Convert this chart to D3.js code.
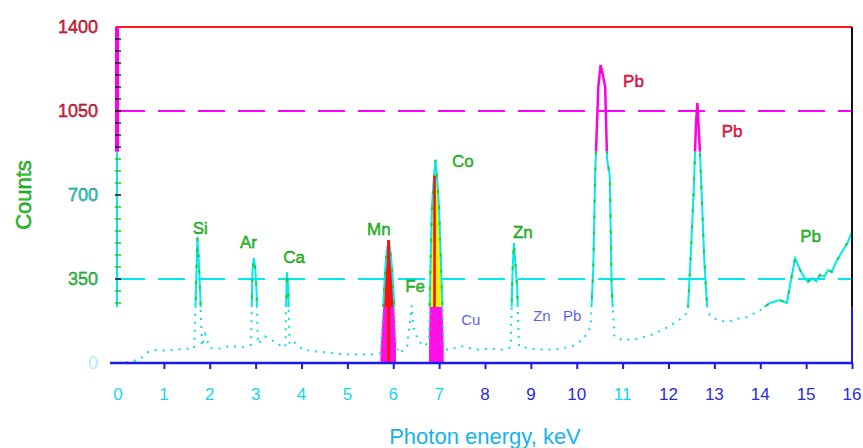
<!DOCTYPE html>
<html lang="en">
<head>
<meta charset="UTF-8">
<title>EDX spectrum</title>
<script src="https://cdn.jsdelivr.net/npm/d3@7"></script>
<style>
  body { margin: 0; background: #fff; }
  svg { display: block; font-family: "Liberation Sans", Arial, sans-serif; }
</style>
</head>
<body>
<svg id="chart" width="863" height="448"></svg>
<script>
  // spectrum (keV, counts)
  const energy = [0.00, 0.30, 0.50, 0.65, 0.80, 1.00, 1.20, 1.40, 1.60, 1.66, 1.70, 1.73, 1.76, 1.79, 1.83, 1.90, 2.00,
    2.20, 2.45, 2.70, 2.90, 2.93, 2.96, 2.99, 3.02, 3.05, 3.20, 3.40, 3.60, 3.65, 3.68, 3.71, 3.74, 3.85, 4.00,
    4.20, 4.50, 4.80, 5.20, 5.50, 5.72, 5.78, 5.82, 5.86, 5.90, 5.94, 5.98, 6.02, 6.06, 6.12, 6.30, 6.38, 6.40, 6.44,
    6.55, 6.70, 6.78, 6.80, 6.84, 6.88, 6.92, 6.96, 7.00, 7.04, 7.07, 7.10, 7.18, 7.30, 7.50, 7.80, 8.10, 8.40, 8.56, 8.60,
    8.63, 8.66, 8.70, 8.74, 9.00, 9.30, 9.60, 9.90, 10.15, 10.30, 10.36, 10.40, 10.47, 10.52, 10.57, 10.62, 10.66,
    10.72, 10.76, 10.82, 11.00, 11.30, 11.60, 11.90, 12.20, 12.42, 12.48, 12.55, 12.60, 12.63, 12.68, 12.72, 12.78,
    12.84, 12.90, 13.05, 13.28, 13.50, 13.67, 13.85, 14.00, 14.21, 14.43, 14.58, 14.65, 14.76, 14.87, 14.95, 15.04,
    15.13, 15.22, 15.30, 15.40, 15.48, 15.56, 15.65, 15.80, 15.90, 16.00];
  const counts = [0, 5, 20, 45, 55, 52, 55, 58, 60, 62, 300, 525, 430, 300, 70, 120, 62,
    60, 72, 65, 75, 380, 437, 400, 300, 80, 110, 90, 65, 70, 379, 320, 75, 85, 60,
    50, 45, 38, 35, 35, 40, 230, 380, 470, 512, 460, 380, 250, 80, 40, 65, 200, 240, 150,
    90, 70, 100, 300, 640, 760, 846, 760, 640, 420, 250, 70, 55, 60, 70, 55, 60, 55, 65, 380,
    500, 420, 320, 70, 60, 55, 58, 70, 100, 150, 390, 780, 1150, 1242, 1200, 1150, 850,
    780, 320, 110, 95, 100, 115, 140, 175, 210, 430, 720, 1000, 1083, 900, 720, 430,
    240, 200, 180, 170, 185, 188, 205, 220, 250, 262, 250, 325, 437, 387, 360, 337,
    354, 340, 367, 360, 387, 380, 420, 470, 500, 546];

  const xTickValues = [0, 1, 2, 3, 4, 5, 6, 7, 8, 9, 10, 11, 12, 13, 14, 15, 16];
  const xTickLabels = ["0", "1", "2", "3", "4", "5", "6", "7", "8", "9", "10", "11", "12", "13", "14", "15", "16"];
  const yTickValues = [0, 350, 700, 1050, 1400];
  const yTickLabels = ["0", "350", "700", "1050", "1400"];

  // element labels, anchored in data units (keV, counts)
  const peakNames = ["Si", "Ar", "Ca", "Mn", "Fe", "Co", "Zn", "Pb", "Pb", "Pb"];
  const peakKeV = [1.63, 2.66, 3.60, 5.43, 6.26, 7.28, 8.61, 11.01, 13.16, 14.87];
  const peakCounts = [537, 479, 417, 533, 296, 817, 521, 1150, 942, 504];
  const faintNames = ["Cu", "Zn", "Pb"];
  const faintKeV = [7.48, 9.05, 9.70];
  const faintCounts = [160, 175, 175];

  const bandHigh = 880, bandLow = 233;

  const svg = d3.select("#chart");
  const x = d3.scaleLinear().domain([0, 16]).range([118, 852]);
  const y = d3.scaleLinear().domain([0, 1400]).range([363, 27]);

  const spectrum = energy.map((e, i) => ({e: e, c: counts[i]}));
  const line = d3.line().x(d => x(d.e)).y(d => y(d.c));
  const area = d3.area().x(d => x(d.e)).y0(y(0)).y1(d => y(d.c));

  const defs = svg.append("defs");
  function band(id, c0, c1) {
    defs.append("clipPath").attr("id", id)
        .append("rect")
        .attr("x", 100).attr("width", 760)
        .attr("y", y(c1)).attr("height", y(c0) - y(c1));
  }
  band("top", bandHigh, 1500);
  band("mid", bandLow, bandHigh);
  band("low", -60, bandLow);

  // dashed reference lines
  svg.append("line")
      .attr("x1", x(0)).attr("x2", x(16)).attr("y1", y(1050)).attr("y2", y(1050))
      .attr("stroke", "#ff00ff").attr("stroke-width", 2).attr("stroke-dasharray", "27 13");
  svg.append("line")
      .attr("x1", x(0)).attr("x2", x(16)).attr("y1", y(350)).attr("y2", y(350))
      .attr("stroke", "#00e8f0").attr("stroke-width", 2).attr("stroke-dasharray", "27 13");

  // filled Mn and Co peaks
  const mn = spectrum.filter(d => d.e >= 5.72 && d.e <= 6.06);
  const co = spectrum.filter(d => d.e >= 6.78 && d.e <= 7.10);

  svg.append("path").datum(mn).attr("d", area).attr("fill", "#ff1010").attr("clip-path", "url(#mid)");
  svg.append("path").datum(mn).attr("d", area).attr("fill", "#ff10e8").attr("clip-path", "url(#low)");
  svg.append("path").datum(co).attr("d", area).attr("fill", "#ffee00").attr("clip-path", "url(#mid)");
  svg.append("path").datum(co).attr("d", area).attr("fill", "#ff10e8").attr("clip-path", "url(#low)");

  // spectrum: magenta on top band, cyan in the middle, dotted near the base
  svg.append("path").datum(spectrum).attr("d", line)
      .attr("fill", "none").attr("stroke", "#ff00e0").attr("stroke-width", 2.5)
      .attr("clip-path", "url(#top)");
  svg.append("path").datum(spectrum).attr("d", line)
      .attr("fill", "none").attr("stroke", "#00eaf2").attr("stroke-width", 2)
      .attr("clip-path", "url(#mid)");
  svg.append("path").datum(spectrum).attr("d", line)
      .attr("fill", "none").attr("stroke", "#22cc22").attr("stroke-width", 2)
      .attr("stroke-dasharray", "3 13")
      .attr("clip-path", "url(#mid)");
  svg.append("path").datum(spectrum).attr("d", line)
      .attr("fill", "none").attr("stroke", "#10d8ea").attr("stroke-width", 2)
      .attr("stroke-dasharray", "2 6")
      .attr("clip-path", "url(#low)");

  // red core of the filled peaks
  svg.append("line")
      .attr("x1", x(5.90)).attr("x2", x(5.90)).attr("y1", y(0)).attr("y2", y(512))
      .attr("stroke", "#ff1010").attr("stroke-width", 3);
  svg.append("line")
      .attr("x1", x(6.90)).attr("x2", x(6.90)).attr("y1", y(bandLow)).attr("y2", y(780))
      .attr("stroke", "#ee1010").attr("stroke-width", 2.5);

  // frame
  svg.append("line").attr("x1", x(0) - 2).attr("x2", x(16)).attr("y1", y(1400)).attr("y2", y(1400))
      .attr("stroke", "#ff1a1a").attr("stroke-width", 2);
  svg.append("line").attr("x1", x(0) - 1).attr("x2", x(0) - 1).attr("y1", y(1400)).attr("y2", y(bandHigh))
      .attr("stroke", "#ff00ee").attr("stroke-width", 4);
  svg.append("line").attr("x1", x(0) - 1).attr("x2", x(0) - 1).attr("y1", y(bandHigh)).attr("y2", y(bandLow))
      .attr("stroke", "#00e8f0").attr("stroke-width", 2);
  svg.append("line").attr("x1", x(16)).attr("x2", x(16)).attr("y1", y(1400)).attr("y2", y(bandLow))
      .attr("stroke", "#111").attr("stroke-width", 2);
  svg.append("line").attr("x1", x(16)).attr("x2", x(16)).attr("y1", y(bandLow)).attr("y2", y(0))
      .attr("stroke", "#1a1aee").attr("stroke-width", 2);
  svg.append("line").attr("x1", x(0) - 8).attr("x2", x(16)).attr("y1", y(0)).attr("y2", y(0))
      .attr("stroke", "#1a1aee").attr("stroke-width", 2.5);

  // left minor ticks every 50 counts
  svg.append("g").selectAll("line")
      .data(d3.range(250, 1400, 50))
      .join("line")
      .attr("x1", x(0) - 3).attr("x2", x(0) + 3)
      .attr("y1", d => y(d)).attr("y2", d => y(d))
      .attr("stroke", d => d % 350 === 0 ? "#111" : (d > bandHigh ? "#222" : "#22cc22"))
      .attr("stroke-width", 1.5);

  // bottom axis ticks and labels
  const xAxis = d3.axisBottom(x)
      .tickValues(xTickValues.slice(1))
      .tickSize(6)
      .tickFormat("");
  const xg = svg.append("g").attr("transform", `translate(0,${y(0)})`).call(xAxis);
  xg.select(".domain").remove();
  xg.selectAll(".tick line").attr("stroke", "#1a1aee").attr("stroke-width", 2);

  svg.append("g").selectAll("text")
      .data(xTickValues)
      .join("text")
      .attr("x", d => x(d))
      .attr("y", 400)
      .attr("text-anchor", "middle")
      .attr("font-size", 17)
      .attr("fill", d => d < 8 || d === 11 ? "#12d6f0" : "#2a2ae0")
      .text((d, i) => xTickLabels[i]);

  // left tick labels
  svg.append("g").selectAll("text")
      .data(yTickValues)
      .join("text")
      .attr("x", 98)
      .attr("y", d => y(d) + 6)
      .attr("text-anchor", "end")
      .attr("font-size", 18)
      .attr("fill", d => d >= 1050 ? "#ff1a3a" : d === 700 ? "#10dfe8" : d === 350 ? "#30d830" : "#a8f2f6")
      .attr("stroke", d => d >= 1050 ? "#550011" : d > 0 ? "#116644" : "none")
      .attr("stroke-width", 0.4)
      .text((d, i) => yTickLabels[i]);

  // axis titles
  svg.append("text")
      .attr("x", 485).attr("y", 444)
      .attr("text-anchor", "middle")
      .attr("font-size", 22)
      .attr("fill", "#16b2f0")
      .text("Photon energy, keV");
  svg.append("text")
      .attr("transform", "translate(31,195) rotate(-90)")
      .attr("text-anchor", "middle")
      .attr("font-size", 22)
      .attr("fill", "#22d022")
      .attr("stroke", "#116611").attr("stroke-width", 0.4)
      .text("Counts");

  // element labels
  svg.append("g").selectAll("text")
      .data(peakNames)
      .join("text")
      .attr("x", (d, i) => x(peakKeV[i]))
      .attr("y", (d, i) => y(peakCounts[i]))
      .attr("font-size", 17)
      .attr("fill", (d, i) => d === "Pb" && i < 9 ? "#ff1040" : "#1ed41e")
      .attr("stroke", (d, i) => d === "Pb" && i < 9 ? "#aa0030" : "#117711")
      .attr("stroke-width", 0.4)
      .text(d => d);

  svg.append("g").selectAll("text")
      .data(faintNames)
      .join("text")
      .attr("x", (d, i) => x(faintKeV[i]))
      .attr("y", (d, i) => y(faintCounts[i]))
      .attr("font-size", 15)
      .attr("fill", "#2a2ae0")
      .attr("opacity", 0.75)
      .text(d => d);
</script>
</body>
</html>
